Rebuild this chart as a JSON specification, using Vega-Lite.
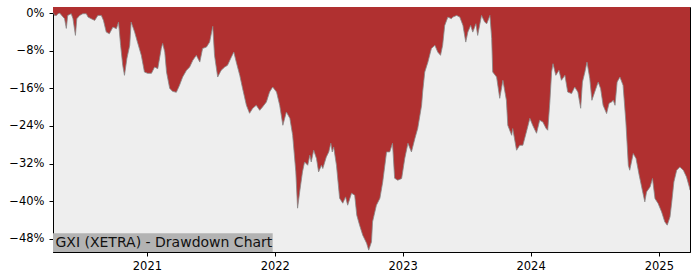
{
  "$schema": "https://vega.github.io/schema/vega-lite/v6.json",
  "width": 637,
  "height": 245,
  "autosize": {"type": "none"},
  "padding": {"left": 53, "top": 7, "right": 10, "bottom": 28},
  "background": "white",
  "config": {
    "view": {"fill": "#eeeeee", "stroke": "black", "strokeWidth": 1},
    "axis": {"labelFont": "DejaVu Sans", "labelFontSize": 11.5, "labelColor": "black", "domainColor": "black", "tickColor": "black", "tickSize": 4, "grid": false}
  },
  "datasets": {
    "dd": [
      {"d":"2020-04-08","v":0},{"d":"2020-04-10","v":0},{"d":"2020-04-12","v":-0.49},{"d":"2020-04-18","v":-0.49},{"d":"2020-04-22","v":-0.13},{"d":"2020-04-27","v":0},
      {"d":"2020-05-11","v":-1.19},{"d":"2020-05-16","v":-3.25},{"d":"2020-05-20","v":-0.49},{"d":"2020-05-30","v":-0.13},{"d":"2020-06-04","v":-1.19},{"d":"2020-06-11","v":-4.74},
      {"d":"2020-06-15","v":-1.19},{"d":"2020-06-23","v":-0.49},{"d":"2020-07-02","v":-0.13},{"d":"2020-07-12","v":-0.13},{"d":"2020-07-17","v":-0.85},{"d":"2020-07-26","v":-1.19},
      {"d":"2020-08-05","v":-1.55},{"d":"2020-08-14","v":-0.49},{"d":"2020-08-24","v":-0.49},{"d":"2020-08-30","v":-1.55},{"d":"2020-09-07","v":-4.04},{"d":"2020-09-16","v":-4.38},
      {"d":"2020-09-26","v":-2.97},{"d":"2020-10-06","v":-3.31},{"d":"2020-10-12","v":-1.91},{"d":"2020-10-18","v":-6.86},{"d":"2020-10-24","v":-11.11},{"d":"2020-10-29","v":-13.23},
      {"d":"2020-11-05","v":-9.62},{"d":"2020-11-13","v":-6.86},{"d":"2020-11-17","v":-1.91},{"d":"2020-11-27","v":-4.04},{"d":"2020-12-05","v":-6.16},{"d":"2020-12-16","v":-8.98},
      {"d":"2020-12-25","v":-12.53},{"d":"2021-01-03","v":-12.81},{"d":"2021-01-14","v":-12.81},{"d":"2021-01-23","v":-11.47},{"d":"2021-02-01","v":-11.81},{"d":"2021-02-11","v":-7.5},
      {"d":"2021-02-15","v":-6.44},{"d":"2021-02-21","v":-8.28},{"d":"2021-02-26","v":-12.53},{"d":"2021-03-07","v":-15.99},{"d":"2021-03-15","v":-16.63},{"d":"2021-03-26","v":-16.84},
      {"d":"2021-04-04","v":-15.36},{"d":"2021-04-13","v":-13.59},{"d":"2021-04-24","v":-12.17},{"d":"2021-05-03","v":-11.47},{"d":"2021-05-12","v":-10.05},{"d":"2021-05-22","v":-8.98},
      {"d":"2021-06-01","v":-10.41},{"d":"2021-06-09","v":-7.5},{"d":"2021-06-20","v":-7.22},{"d":"2021-06-29","v":-6.16},{"d":"2021-07-08","v":-2.82},{"d":"2021-07-13","v":-8.98},
      {"d":"2021-07-22","v":-13.59},{"d":"2021-08-01","v":-12.17},{"d":"2021-08-11","v":-11.47},{"d":"2021-08-19","v":-11.11},{"d":"2021-08-30","v":-9.35},{"d":"2021-09-06","v":-8.28},
      {"d":"2021-09-13","v":-10.41},{"d":"2021-09-23","v":-13.23},{"d":"2021-10-01","v":-15.99},{"d":"2021-10-12","v":-19.6},{"d":"2021-10-21","v":-21.3},{"d":"2021-10-30","v":-20.24},
      {"d":"2021-11-09","v":-19.6},{"d":"2021-11-19","v":-20.67},{"d":"2021-11-27","v":-19.97},{"d":"2021-12-08","v":-18.9},{"d":"2021-12-17","v":-16.78},{"d":"2021-12-26","v":-15.72},
      {"d":"2022-01-06","v":-16.78},{"d":"2022-01-15","v":-19.6},{"d":"2022-01-24","v":-23.85},{"d":"2022-02-03","v":-21.03},{"d":"2022-02-13","v":-22.37},{"d":"2022-02-21","v":-25.98},
      {"d":"2022-03-02","v":-33.77},{"d":"2022-03-07","v":-41.48},{"d":"2022-03-13","v":-38.02},{"d":"2022-03-21","v":-33.77},{"d":"2022-03-27","v":-31.65},{"d":"2022-04-05","v":-32.35},
      {"d":"2022-04-11","v":-30.22},{"d":"2022-04-15","v":-31.65},{"d":"2022-04-22","v":-29.16},{"d":"2022-04-30","v":-30.93},{"d":"2022-05-06","v":-33.77},{"d":"2022-05-14","v":-32.35},
      {"d":"2022-05-18","v":-33.05},{"d":"2022-05-28","v":-30.59},{"d":"2022-06-04","v":-29.52},{"d":"2022-06-10","v":-27.68},{"d":"2022-06-14","v":-29.52},{"d":"2022-06-18","v":-28.46},
      {"d":"2022-06-26","v":-32.35},{"d":"2022-07-05","v":-39.36},{"d":"2022-07-14","v":-40.42},{"d":"2022-07-22","v":-39.08},{"d":"2022-07-28","v":-40.85},{"d":"2022-08-08","v":-38.3},
      {"d":"2022-08-17","v":-38.72},{"d":"2022-08-23","v":-42.97},{"d":"2022-08-31","v":-45.09},{"d":"2022-09-09","v":-47.22},{"d":"2022-09-20","v":-48.92},{"d":"2022-09-26","v":-50.4},
      {"d":"2022-10-04","v":-48.64},{"d":"2022-10-07","v":-44.39},{"d":"2022-10-18","v":-40.85},{"d":"2022-10-28","v":-39.36},{"d":"2022-11-05","v":-35.9},{"d":"2022-11-16","v":-29.52},
      {"d":"2022-11-25","v":-29.52},{"d":"2022-12-03","v":-27.68},{"d":"2022-12-09","v":-35.11},{"d":"2022-12-18","v":-35.54},{"d":"2022-12-29","v":-35.17},{"d":"2023-01-07","v":-30.86},
      {"d":"2023-01-16","v":-27.68},{"d":"2023-01-26","v":-29.52},{"d":"2023-02-05","v":-26.61},{"d":"2023-02-13","v":-24.49},{"d":"2023-02-24","v":-19.6},{"d":"2023-02-27","v":-16.78},
      {"d":"2023-03-05","v":-12.53},{"d":"2023-03-14","v":-10.41},{"d":"2023-03-24","v":-7.5},{"d":"2023-04-03","v":-6.86},{"d":"2023-04-11","v":-8.28},{"d":"2023-04-19","v":-8.98},
      {"d":"2023-04-25","v":-6.86},{"d":"2023-05-01","v":-2.61},{"d":"2023-05-10","v":-0.85},{"d":"2023-05-20","v":-1.19},{"d":"2023-05-24","v":-0.85},{"d":"2023-06-04","v":-0.49},
      {"d":"2023-06-13","v":-0.85},{"d":"2023-06-22","v":-2.61},{"d":"2023-06-30","v":-6.16},{"d":"2023-07-06","v":-4.04},{"d":"2023-07-14","v":-2.61},{"d":"2023-07-20","v":-4.04},
      {"d":"2023-07-29","v":-2.25},{"d":"2023-08-03","v":-4.74},{"d":"2023-08-14","v":-0.49},{"d":"2023-08-23","v":-1.91},{"d":"2023-08-29","v":-2.25},{"d":"2023-09-07","v":-0.49},
      {"d":"2023-09-12","v":-5.37},{"d":"2023-09-15","v":-12.53},{"d":"2023-09-26","v":-13.59},{"d":"2023-10-05","v":-18.12},{"d":"2023-10-14","v":-14.29},{"d":"2023-10-24","v":-18.54},
      {"d":"2023-10-28","v":-23.85},{"d":"2023-11-08","v":-25.98},{"d":"2023-11-11","v":-24.55},{"d":"2023-11-22","v":-29.16},{"d":"2023-12-01","v":-28.1},{"d":"2023-12-10","v":-28.1},
      {"d":"2023-12-20","v":-25.28},{"d":"2023-12-30","v":-22.37},{"d":"2024-01-07","v":-23.85},{"d":"2024-01-18","v":-25.55},{"d":"2024-01-27","v":-22.79},{"d":"2024-02-05","v":-23.15},
      {"d":"2024-02-14","v":-24.49},{"d":"2024-02-19","v":-24.91},{"d":"2024-02-25","v":-18.9},{"d":"2024-03-01","v":-12.53},{"d":"2024-03-05","v":-10.75},{"d":"2024-03-13","v":-13.23},
      {"d":"2024-03-22","v":-12.17},{"d":"2024-03-29","v":-14.29},{"d":"2024-04-08","v":-13.23},{"d":"2024-04-16","v":-16.78},{"d":"2024-04-27","v":-17.12},{"d":"2024-05-06","v":-15.72},
      {"d":"2024-05-15","v":-16.78},{"d":"2024-05-23","v":-20.24},{"d":"2024-05-28","v":-14.66},{"d":"2024-06-04","v":-12.53},{"d":"2024-06-10","v":-10.41},{"d":"2024-06-18","v":-13.93},
      {"d":"2024-06-24","v":-18.54},{"d":"2024-07-02","v":-16.78},{"d":"2024-07-12","v":-14.66},{"d":"2024-07-19","v":-16.06},{"d":"2024-07-26","v":-19.6},{"d":"2024-08-05","v":-21.37},
      {"d":"2024-08-12","v":-19.18},{"d":"2024-08-19","v":-18.9},{"d":"2024-08-24","v":-18.54},{"d":"2024-08-29","v":-19.6},{"d":"2024-09-04","v":-14.66},{"d":"2024-09-12","v":-13.59},
      {"d":"2024-09-21","v":-15.36},{"d":"2024-09-29","v":-23.15},{"d":"2024-10-06","v":-32.35},{"d":"2024-10-10","v":-33.41},{"d":"2024-10-20","v":-29.86},{"d":"2024-10-28","v":-30.93},
      {"d":"2024-11-06","v":-34.47},{"d":"2024-11-16","v":-38.02},{"d":"2024-11-22","v":-40.14},{"d":"2024-11-27","v":-38.02},{"d":"2024-12-07","v":-36.96},{"d":"2024-12-14","v":-35.17},
      {"d":"2024-12-21","v":-39.42},{"d":"2024-12-30","v":-40.48},{"d":"2025-01-09","v":-42.27},{"d":"2025-01-18","v":-44.39},{"d":"2025-01-25","v":-45.09},{"d":"2025-02-02","v":-43.33},
      {"d":"2025-02-07","v":-40.14},{"d":"2025-02-13","v":-35.9},{"d":"2025-02-21","v":-33.41},{"d":"2025-03-02","v":-32.71},{"d":"2025-03-12","v":-33.41},{"d":"2025-03-21","v":-34.83},
      {"d":"2025-03-29","v":-36.96},{"d":"2025-03-31","v":-37.66}
    ],
    "lab": [{"t": "GXI (XETRA) - Drawdown Chart"}]
  },
  "layer": [
    {
      "data": {"name": "dd"},
      "mark": {"type": "area", "color": "#b03030", "clip": true},
      "encoding": {
        "x": {"field": "d", "type": "temporal",
          "scale": {"type": "utc", "domain": [{"year": 2020, "month": 4, "date": 8, "utc": true}, {"year": 2025, "month": 3, "date": 31, "utc": true}]},
          "axis": {"title": null, "format": "%Y", "labelPadding": 4,
            "values": [{"year": 2021, "month": 1, "date": 1, "utc": true}, {"year": 2022, "month": 1, "date": 1, "utc": true}, {"year": 2023, "month": 1, "date": 1, "utc": true}, {"year": 2024, "month": 1, "date": 1, "utc": true}, {"year": 2025, "month": 1, "date": 1, "utc": true}]}},
        "y": {"field": "v", "type": "quantitative",
          "scale": {"domain": [-50.8, 1.3], "zero": false, "nice": false},
          "axis": {"title": null, "values": [0, -8, -16, -24, -32, -40, -48], "labelExpr": "format(datum.value, 'd') + '%'", "labelPadding": 5}},
        "y2": {"datum": 1.3}
      }
    },
    {
      "data": {"name": "dd"},
      "mark": {"type": "line", "color": "#888888", "strokeWidth": 1, "opacity": 0.8, "clip": true},
      "encoding": {
        "x": {"field": "d", "type": "temporal"},
        "y": {"field": "v", "type": "quantitative"}
      }
    },
    {
      "data": {"name": "lab"},
      "mark": {"type": "rect", "color": "#b3b3b3"},
      "encoding": {
        "x": {"datum": {"year": 2020, "month": 4, "date": 8, "utc": true}, "type": "temporal"},
        "x2": {"datum": {"year": 2021, "month": 12, "date": 26, "utc": true}},
        "y": {"datum": -50.8, "type": "quantitative"},
        "y2": {"datum": -46.8}
      }
    },
    {
      "data": {"name": "lab"},
      "mark": {"type": "text", "align": "left", "baseline": "alphabetic", "font": "DejaVu Sans", "fontSize": 14, "color": "#111111"},
      "encoding": {
        "x": {"datum": {"year": 2020, "month": 4, "date": 15, "utc": true}, "type": "temporal"},
        "y": {"datum": -49.7, "type": "quantitative"},
        "text": {"field": "t"}
      }
    }
  ]
}
